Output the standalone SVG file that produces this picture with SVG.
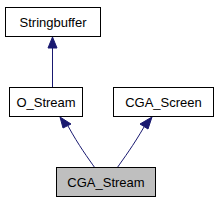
<svg xmlns="http://www.w3.org/2000/svg" width="215" height="203" viewBox="0 0 215 203">
<style>
.box{fill:#ffffff;stroke:#000000;stroke-width:1}
.t{font-family:"Liberation Sans",Arial,sans-serif;font-size:13px;text-anchor:middle;fill:#000000}
.e{fill:none;stroke:#191970;stroke-width:1}
.h{fill:#191970;stroke:#191970;stroke-width:1}
</style>
<rect width="215" height="203" fill="#ffffff"/>
<g id="edges">
<path class="e" d="M52.5,87 L52.5,48"/>
<polygon class="h" points="52.5,37 48,48 57,48"/>
<path class="e" d="M95,168 C88,158 79,146 68,126"/>
<polygon class="h" points="60,117 63,128 71,124"/>
<path class="e" d="M117,168 C124,158 133,146 144,127"/>
<polygon class="h" points="152,117 140,124 148,129"/>
</g>
<g id="Stringbuffer">
<rect class="box" x="5.5" y="7.5" width="95" height="29"/>
<text class="t" x="53" y="26.5">Stringbuffer</text>
</g>
<g id="O_Stream">
<rect class="box" x="9.5" y="87.5" width="73" height="29"/>
<text class="t" x="46" y="106.5">O_Stream</text>
</g>
<g id="CGA_Screen">
<rect class="box" x="113.5" y="87.5" width="100" height="29"/>
<text class="t" x="163.5" y="106.5">CGA_Screen</text>
</g>
<g id="CGA_Stream">
<rect class="box" x="56.5" y="167.5" width="99" height="29" style="fill:#bfbfbf"/>
<text class="t" x="106" y="186.5">CGA_Stream</text>
</g>
</svg>
